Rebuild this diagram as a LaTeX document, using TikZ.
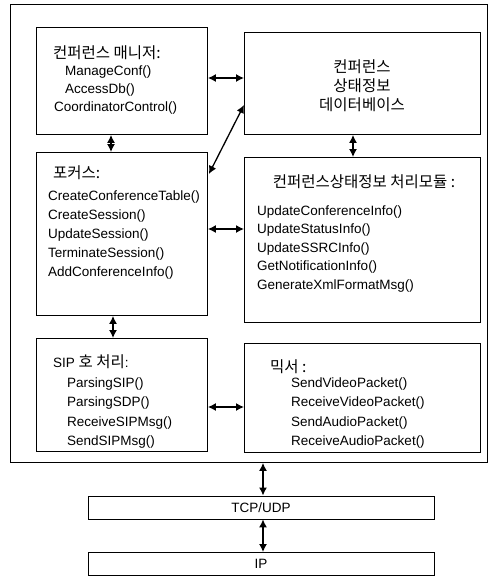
\documentclass[tikz,border=0pt]{standalone}
\usepackage{fontspec}
\setmainfont{Liberation Sans}
\newfontfamily\kr{Noto Sans CJK KR}
\newcommand{\krs}{\kr\fontsize{15.5}{17}\selectfont}
\usetikzlibrary{arrows.meta}
\begin{document}
\begin{tikzpicture}[x=1pt,y=-1pt,
  box/.style={draw,line width=0.9pt,anchor=north west,inner sep=0pt},
  txt/.style={anchor=west,inner sep=0pt,font=\fontsize{13.5}{15}\selectfont},
  ctxt/.style={anchor=center,inner sep=0pt,font=\fontsize{13.5}{15}\selectfont},
  link/.style={line width=1.3pt,{Latex[length=8pt,width=8pt]}-{Latex[length=8pt,width=8pt]}}]
\useasboundingbox (0,0) rectangle (491,576);
% outer box
\node[box,minimum width=477pt,minimum height=458pt] (outer) at (10,4) {};
% boxes
\node[box,minimum width=171pt,minimum height=107pt] (mgr) at (36,27) {};
\node[box,minimum width=236pt,minimum height=102pt] (db) at (244,32) {};
\node[box,minimum width=171pt,minimum height=163pt] (focus) at (36,152) {};
\node[box,minimum width=236pt,minimum height=165pt] (proc) at (244,157) {};
\node[box,minimum width=171pt,minimum height=113pt] (sip) at (36,338) {};
\node[box,minimum width=236pt,minimum height=109pt] (mix) at (244,343) {};
\node[box,minimum width=346pt,minimum height=23pt] (tcp) at (88,495.5) {};
\node[box,minimum width=346pt,minimum height=23pt] (ip) at (88,552) {};
% texts: manager
\node[txt] (t1) at (53,53) {\krs 컨퍼런스 매니저:};
\node[txt] (t2) at (65,72) {ManageConf()};
\node[txt] (t3) at (65,90) {AccessDb()};
\node[txt] (t4) at (54,108.5) {CoordinatorControl()};
% db
\node[ctxt] (d1) at (362,67) {\krs 컨퍼런스};
\node[ctxt] (d2) at (362,86) {\krs 상태정보};
\node[ctxt] (d3) at (362,105) {\krs 데이터베이스};
% focus
\node[txt] (f0) at (53,173) {\krs 포커스:};
\node[txt] (f1) at (48,197) {CreateConferenceTable()};
\node[txt] (f2) at (48,216) {CreateSession()};
\node[txt] (f3) at (48,235) {UpdateSession()};
\node[txt] (f4) at (48,254) {TerminateSession()};
\node[txt] (f5) at (48,273) {AddConferenceInfo()};
% proc
\node[ctxt] (p0) at (364,182) {\krs 컨퍼런스상태정보 처리모듈 :};
\node[txt] (p1) at (257,212) {UpdateConferenceInfo()};
\node[txt] (p2) at (257,230.5) {UpdateStatusInfo()};
\node[txt] (p3) at (257,249) {UpdateSSRCInfo()};
\node[txt] (p4) at (257,267.5) {GetNotificationInfo()};
\node[txt] (p5) at (257,286) {GenerateXmlFormatMsg()};
% sip
\node[txt] (s0) at (53,362) {SIP {\krs 호 처리}:};
\node[txt] (s1) at (67,384) {ParsingSIP()};
\node[txt] (s2) at (67,403.5) {ParsingSDP()};
\node[txt] (s3) at (67,423) {ReceiveSIPMsg()};
\node[txt] (s4) at (67,442.5) {SendSIPMsg()};
% mixer
\node[txt] (m0) at (270,367) {\krs 믹서 :};
\node[txt] (m1) at (291,384) {SendVideoPacket()};
\node[txt] (m2) at (291,403.5) {ReceiveVideoPacket()};
\node[txt] (m3) at (291,423) {SendAudioPacket()};
\node[txt] (m4) at (291,442.5) {ReceiveAudioPacket()};
% bottom labels
\node[ctxt] (tl) at (261,507.5) {TCP/UDP};
\node[ctxt] (il) at (261,564) {IP};
% connectors
\draw[link] (mgr.east |- 0,78) -- (db.west |- 0,78);
\draw[link] (111,0 |- mgr.south) -- (111,0 |- focus.north);
\draw[link] (focus.north east |- 0,174) ++(1,0) -- (db.west |- 0,105);
\draw[link] (353,0 |- db.south) -- (353,0 |- proc.north);
\draw[link] (focus.east |- 0,229) -- (proc.west |- 0,229);
\draw[link] (113,0 |- focus.south) -- (113,0 |- sip.north);
\draw[link] (sip.east |- 0,407) -- (mix.west |- 0,407);
\draw[link] (263,0 |- outer.south) -- (263,0 |- tcp.north);
\draw[link] (263,0 |- tcp.south) -- (263,0 |- ip.north);
\end{tikzpicture}
\end{document}
